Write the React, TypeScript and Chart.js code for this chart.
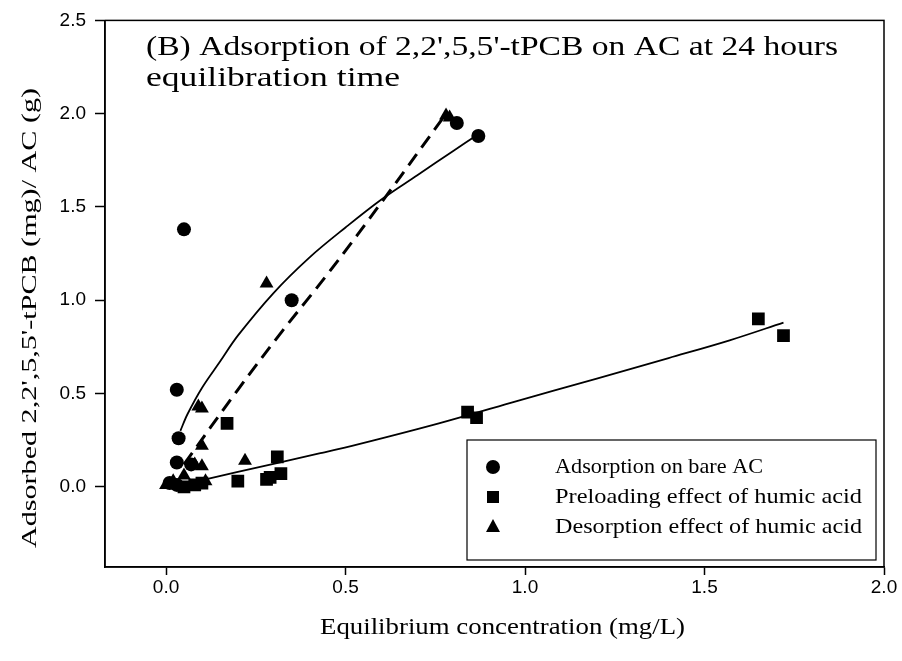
import React, { useEffect, useRef } from "react";
import { Chart, registerables } from "chart.js";

Chart.register(...registerables);

// ---- data ----
const bareX = [0.01, 0.03, 0.03, 0.035, 0.03, 0.05, 0.07, 0.35, 0.81, 0.87];
const bareY = [0.02, 0.01, 0.13, 0.26, 0.52, 1.38, 0.12, 1.0, 1.95, 1.88];

const preX = [0.05, 0.08, 0.1, 0.17, 0.2, 0.28, 0.29, 0.32, 0.31, 0.84, 0.865, 1.65, 1.72];
const preY = [0.0, 0.01, 0.02, 0.34, 0.03, 0.04, 0.05, 0.07, 0.16, 0.4, 0.37, 0.9, 0.81];

const desX = [0.0, 0.02, 0.05, 0.08, 0.1, 0.1, 0.1, 0.09, 0.22, 0.28, 0.78, 0.79, 0.11];
const desY = [0.01, 0.03, 0.06, 0.12, 0.11, 0.22, 0.42, 0.43, 0.14, 1.09, 1.99, 1.98, 0.03];

// fitted curves
const fitBareX = [0.04, 0.06, 0.1, 0.15, 0.2, 0.3, 0.4, 0.5, 0.6, 0.7, 0.8, 0.87];
const fitBareY = [0.3, 0.39, 0.53, 0.67, 0.81, 1.04, 1.23, 1.39, 1.54, 1.67, 1.8, 1.89];

const fitDesX = [0.05, 0.2, 0.326, 0.45, 0.61, 0.78];
const fitDesY = [0.12, 0.52, 0.84, 1.14, 1.55, 2.0];

const fitPreX = [0.11, 0.2, 0.43, 0.54, 0.76, 0.96, 1.2, 1.4, 1.57, 1.72];
const fitPreY = [0.04, 0.08, 0.18, 0.23, 0.34, 0.45, 0.58, 0.69, 0.785, 0.88];

const xTickValues = [0, 0.5, 1.0, 1.5, 2.0];
const yTickValues = [0, 0.5, 1.0, 1.5, 2.0, 2.5];

const titleLines = ["(B) Adsorption of 2,2',5,5'-tPCB on AC at 24 hours", "equilibration time"];
const legendLabels = [
  "Adsorption on bare AC",
  "Preloading effect of humic acid",
  "Desorption effect of humic acid",
];
const xTitle = "Equilibrium concentration (mg/L)";
const yTitle = "Adsorbed 2,2',5,5'-tPCB (mg)/ AC (g)";

const zip = (xs: number[], ys: number[]) => xs.map((x, i) => ({ x, y: ys[i] }));

const SERIF = "'Liberation Serif', 'Times New Roman', serif";
const SANS = "'Liberation Sans', Arial, sans-serif";

function drawFitted(
  ctx: CanvasRenderingContext2D,
  text: string,
  x: number,
  y: number,
  font: string,
  targetW: number,
  rot = 0,
  align: CanvasTextAlign = "left"
) {
  ctx.save();
  ctx.font = font;
  const w = ctx.measureText(text).width;
  const s = targetW / w;
  ctx.translate(x, y);
  ctx.rotate(rot);
  ctx.scale(s, 1);
  ctx.textBaseline = "middle";
  ctx.textAlign = align;
  ctx.fillStyle = "#000";
  ctx.fillText(text, 0, 0);
  ctx.restore();
}

function drawMarker(ctx: CanvasRenderingContext2D, style: string, x: number, y: number) {
  ctx.save();
  ctx.fillStyle = "#000";
  ctx.beginPath();
  if (style === "circle") {
    ctx.arc(x, y, 7, 0, Math.PI * 2);
  } else if (style === "rect") {
    ctx.rect(x - 6, y - 6, 12, 12);
  } else {
    ctx.moveTo(x, y - 8);
    ctx.lineTo(x + 7, y + 5);
    ctx.lineTo(x - 7, y + 5);
    ctx.closePath();
  }
  ctx.fill();
  ctx.restore();
}

const decorPlugin = {
  id: "decor",
  afterDraw(chart: any) {
    const ctx: CanvasRenderingContext2D = chart.ctx;
    const ca = chart.chartArea;
    // frame
    ctx.save();
    ctx.strokeStyle = "#000";
    ctx.lineWidth = 1.5;
    ctx.strokeRect(ca.left, ca.top, ca.right - ca.left, ca.bottom - ca.top);
    ctx.restore();

    // title inside plot
    drawFitted(ctx, titleLines[0], ca.left + 41, ca.top + 27, `28px ${SERIF}`, 692);
    drawFitted(ctx, titleLines[1], ca.left + 41, ca.top + 58, `28px ${SERIF}`, 254);

    // legend box
    const bx = ca.right - 417;
    const by = ca.bottom - 127;
    const bw = 409;
    const bh = 120;
    ctx.save();
    ctx.strokeStyle = "#000";
    ctx.lineWidth = 1.2;
    ctx.fillStyle = "#fff";
    ctx.fillRect(bx, by, bw, bh);
    ctx.strokeRect(bx, by, bw, bh);
    ctx.restore();
    const styles = ["circle", "rect", "triangle"];
    const widths = [208, 307, 307];
    legendLabels.forEach((lab, i) => {
      const ly = by + 27 + i * 30;
      drawMarker(ctx, styles[i], bx + 26, ly);
      drawFitted(ctx, lab, bx + 88, ly, `22px ${SERIF}`, widths[i]);
    });

    // axis titles
    drawFitted(ctx, xTitle, (ca.left + ca.right) / 2 + 8, 628, `23px ${SERIF}`, 365, 0, "center");
    drawFitted(ctx, yTitle, 30, 318, `22px ${SERIF}`, 460, -Math.PI / 2, "center");
  },
};

export default function App() {
  const ref = useRef<HTMLCanvasElement>(null);

  useEffect(() => {
    if (!ref.current) return;
    const pointDs = (label: string, xs: number[], ys: number[], style: string, r: number) => ({
      type: "scatter" as const,
      label,
      data: zip(xs, ys),
      pointStyle: style,
      pointRadius: r,
      pointBackgroundColor: "#000",
      pointBorderColor: "#000",
      pointBorderWidth: 0,
      showLine: false,
      order: 1,
    });
    const lineDs = (xs: number[], ys: number[], dash: number[], width: number) => ({
      type: "scatter" as const,
      label: "fit",
      data: zip(xs, ys),
      showLine: true,
      pointRadius: 0,
      borderColor: "#000",
      borderWidth: width,
      borderDash: dash,
      tension: 0.35,
      fill: false,
      order: 2,
    });

    const chart = new Chart(ref.current, {
      type: "scatter",
      data: {
        datasets: [
          pointDs(legendLabels[0], bareX, bareY, "circle", 7),
          pointDs(legendLabels[1], preX, preY, "rect", 9),
          pointDs(legendLabels[2], desX, desY, "triangle", 8),
          lineDs(fitBareX, fitBareY, [], 1.8),
          lineDs(fitDesX, fitDesY, [14, 8], 3),
          lineDs(fitPreX, fitPreY, [], 1.8),
        ] as any,
      },
      options: {
        animation: false,
        responsive: false,
        layout: { padding: { top: 16, right: 18, left: 0, bottom: 0 } },
        plugins: { legend: { display: false }, tooltip: { enabled: false } },
        scales: {
          x: {
            type: "linear",
            min: -0.17,
            max: 2.0,
            afterBuildTicks: (s: any) => {
              s.ticks = xTickValues.map((v) => ({ value: v }));
            },
            afterFit: (s: any) => {
              s.height = 94;
            },
            ticks: {
              color: "#000",
              font: { family: SANS, size: 19 },
              padding: 1,
              callback: (v: any) => Number(v).toFixed(1),
            },
            grid: {
              display: true,
              drawOnChartArea: false,
              drawTicks: true,
              tickLength: 8,
              color: "#000",
              tickWidth: 1.5,
            },
            border: { display: true, color: "#000", width: 1.5 },
          },
          y: {
            type: "linear",
            min: -0.43,
            max: 2.5,
            afterBuildTicks: (s: any) => {
              s.ticks = yTickValues.map((v) => ({ value: v }));
            },
            afterFit: (s: any) => {
              s.width = 105;
            },
            ticks: {
              color: "#000",
              font: { family: SANS, size: 19 },
              padding: 9,
              callback: (v: any) => Number(v).toFixed(1),
            },
            grid: {
              display: true,
              drawOnChartArea: false,
              drawTicks: true,
              tickLength: 10,
              color: "#000",
              tickWidth: 1.5,
            },
            border: { display: true, color: "#000", width: 1.5 },
          },
        },
      },
      plugins: [decorPlugin],
    });
    return () => chart.destroy();
  }, []);

  return (
    <div style={{ position: "fixed", left: 0, top: 0, width: 902, height: 661, background: "#fff" }}>
      <canvas ref={ref} width={902} height={661} style={{ display: "block" }} />
    </div>
  );
}
